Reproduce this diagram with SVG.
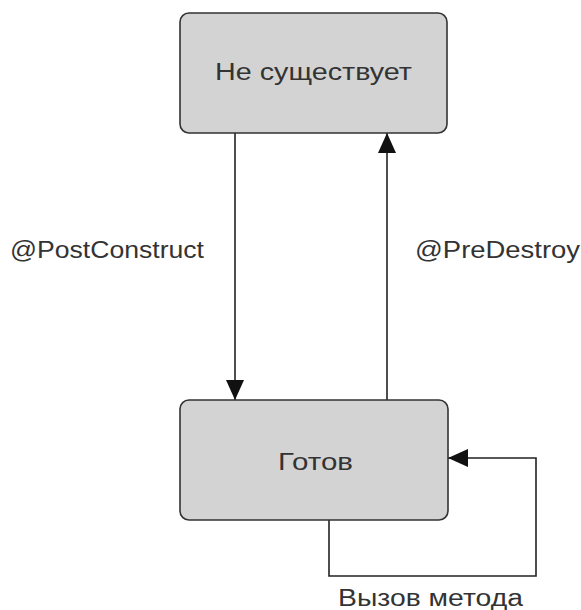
<svg xmlns="http://www.w3.org/2000/svg" width="581" height="610" viewBox="0 0 581 610">
  <style>
    .state { fill: #d3d3d3; stroke: #333333; stroke-width: 1.6; }
    .wire { fill: none; stroke: #222222; stroke-width: 1.6; }
    .label { font-family: "Liberation Sans", Arial, sans-serif; font-size: 23px; fill: #333333; }
  </style>
  <defs>
    <marker id="head" viewBox="0 0 20 20" refX="20" refY="10" markerWidth="20" markerHeight="20" markerUnits="userSpaceOnUse" orient="auto">
      <path d="M0,1 L20,10 L0,19 Z" fill="#111111"/>
    </marker>
  </defs>

  <g id="connectors">
    <!-- @PostConstruct: top state to bottom state -->
    <line class="wire" x1="235" y1="133" x2="235" y2="400" marker-end="url(#head)"/>
    <!-- @PreDestroy: bottom state back to top state -->
    <line class="wire" x1="387" y1="400" x2="387" y2="133" marker-end="url(#head)"/>
    <!-- method call self-loop -->
    <polyline class="wire" points="329,520 329,576 536,576 536,458 448,458" marker-end="url(#head)"/>
  </g>

  <g id="node-not-exists">
    <rect class="state" x="180" y="13" width="267" height="120" rx="9"/>
    <text class="label" x="313.5" y="80" text-anchor="middle" textLength="197" lengthAdjust="spacingAndGlyphs" font-size="25">Не существует</text>
  </g>

  <g id="node-ready">
    <rect class="state" x="180" y="400" width="268" height="120" rx="9"/>
    <text class="label" x="315.5" y="470" text-anchor="middle" textLength="75" lengthAdjust="spacingAndGlyphs" font-size="25">Готов</text>
  </g>

  <g id="labels">
    <text class="label" x="10" y="258" textLength="194" lengthAdjust="spacingAndGlyphs">@PostConstruct</text>
    <text class="label" x="415" y="258" textLength="165" lengthAdjust="spacingAndGlyphs">@PreDestroy</text>
    <text class="label" x="338" y="606" textLength="185" lengthAdjust="spacingAndGlyphs">Вызов метода</text>
  </g>
</svg>
